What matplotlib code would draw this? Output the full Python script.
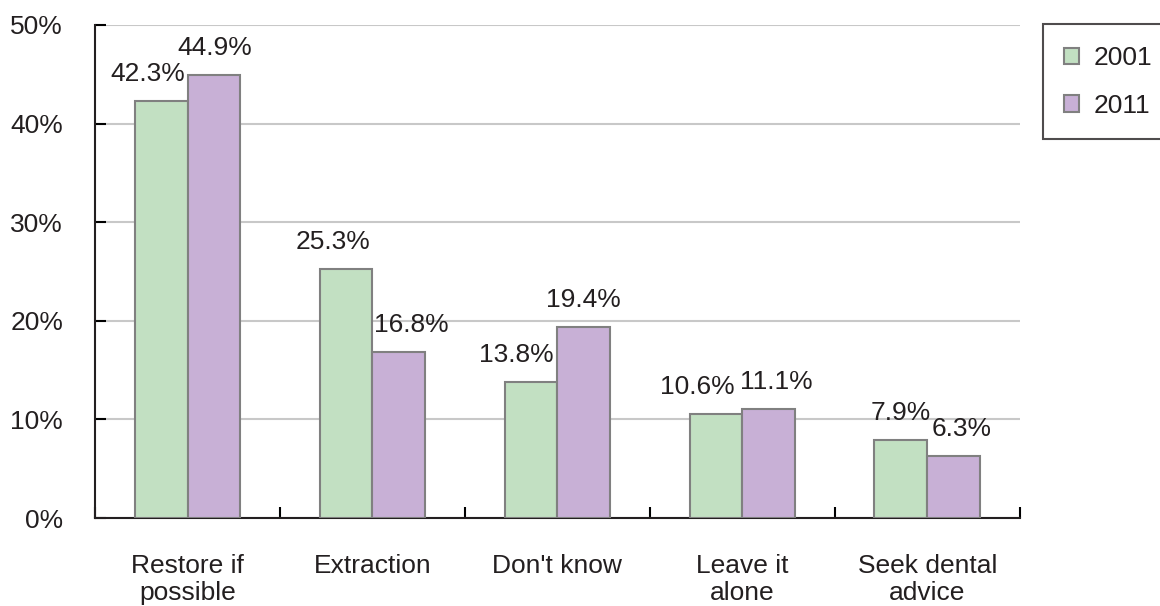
import matplotlib.pyplot as plt
import numpy as np

plt.rcParams['font.family'] = ['Liberation Sans', 'DejaVu Sans']

categorias = ['Restore if\npossible', 'Extraction', "Don't know", 'Leave it\nalone', 'Seek dental\nadvice']
valores_2001 = [42.3, 25.3, 13.8, 10.6, 7.9]
valores_2011 = [44.9, 16.8, 19.4, 11.1, 6.3]
etiquetas_y = ['0%', '10%', '20%', '30%', '40%', '50%']

# corrimiento horizontal de cada etiqueta (pixeles) para que no se pisen
despl_2001 = [-13, -13, -15, -19, 0]
despl_2011 = [1, 12, 0, 8, 8]

TEXTO = '#231f20'
FS = 19

fig = plt.figure(figsize=(11.6, 6.06), dpi=100)
ax = fig.add_axes([0.082, 0.145, 0.797, 0.814])

x = np.arange(len(categorias))
ancho = 0.285
b1 = ax.bar(x - ancho / 2, valores_2001, ancho, color='#c2e0c2', edgecolor='#808080',
            linewidth=1.5, label='2001', zorder=3)
b2 = ax.bar(x + ancho / 2, valores_2011, ancho, color='#c8b0d6', edgecolor='#808080',
            linewidth=1.5, label='2011', zorder=3)

# etiquetas de valor sobre cada barra
for barras, vals, despl in ((b1, valores_2001, despl_2001), (b2, valores_2011, despl_2011)):
    for b, v, d in zip(barras, vals, despl):
        ax.annotate(f'{v:.1f}%', (b.get_x() + b.get_width() / 2, v),
                    xytext=(d, 20), textcoords='offset pixels',
                    ha='center', va='baseline', fontsize=FS, color=TEXTO, zorder=4)

ax.set_xlim(-0.5, len(categorias) - 0.5)
ax.set_ylim(0, 50)
ax.set_yticks(range(0, 51, 10))
ax.set_yticklabels(etiquetas_y, fontsize=FS, color=TEXTO)
ax.tick_params(axis='y', direction='in', length=8, width=1.5, pad=23)
ax.yaxis.grid(True, color='#c8c8c8', linewidth=1.5, zorder=0)

ax.set_xticks(x)
ax.set_xticklabels(categorias, fontsize=FS, color=TEXTO, linespacing=1.15)
ax.tick_params(axis='x', length=0, pad=26)
# marcas entre categorias
ax.set_xticks(np.arange(-0.5, len(categorias)), minor=True)
ax.tick_params(axis='x', which='minor', direction='in', length=8, width=1.5)

for s in ('top', 'right'):
    ax.spines[s].set_visible(False)
for s in ('left', 'bottom'):
    ax.spines[s].set_linewidth(1.5)
    ax.spines[s].set_color(TEXTO)

leg = ax.legend(loc='upper left', bbox_to_anchor=(1.025, 1.001), fontsize=FS,
                frameon=True, fancybox=False, edgecolor=TEXTO,
                handlelength=0.57, handleheight=0.57, handletextpad=0.55,
                labelspacing=0.9, borderpad=0.82, borderaxespad=0)
leg.get_frame().set_linewidth(1.5)
for t in leg.get_texts():
    t.set_color(TEXTO)

fig.savefig('out.png', dpi=100)
